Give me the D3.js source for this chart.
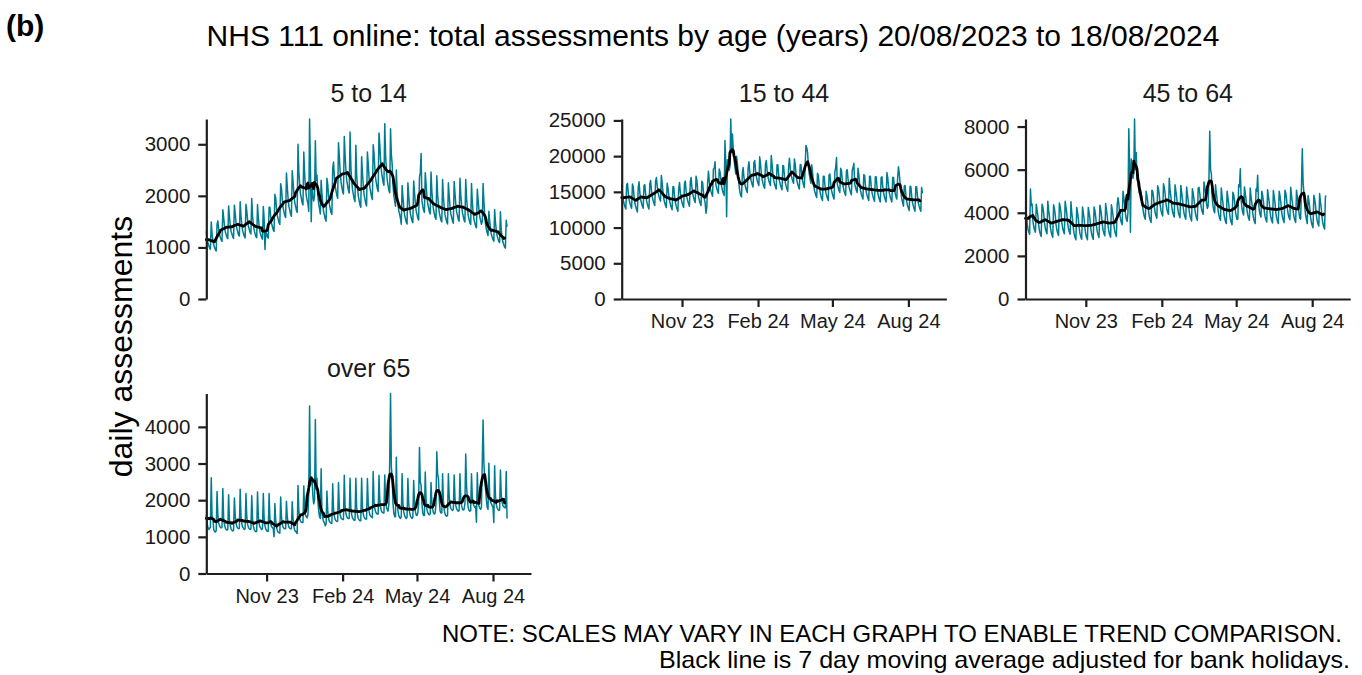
<!DOCTYPE html>
<html>
<head>
<meta charset="utf-8">
<script src="https://cdn.jsdelivr.net/npm/d3@7"></script>
<style>
  html, body { margin: 0; padding: 0; background: #ffffff; }
  svg { display: block; }
  text { font-family: "Liberation Sans", Arial, Helvetica, sans-serif; }
</style>
</head>
<body>
<svg id="chart" width="1362" height="675"></svg>
<script>
// ---------------- DATA ----------------
const startDate = "2023-08-20";   // first day (Sunday); one value per day to 18/08/2024
const ageGroups = ["5 to 14", "15 to 44", "45 to 64", "over 65"];

const age5to14 = [
  1310,1170,1080,1035,990,965,1495,
  1265,1130,1045,1000,955,930,1445,
  1515,1355,1250,1195,1145,1115,1730,
  1585,1420,1305,1250,1195,1170,1805,
  1595,1430,1315,1260,1205,1175,1820,
  1655,1480,1365,1305,1245,1220,1885,
  1605,1440,1325,1270,1215,1185,1835,
  1710,1530,1410,1350,1290,1260,1950,
  1610,1435,1330,1265,1210,1190,1830,
  1575,1410,1295,1240,1185,1160,1795,
  1560,960,1300,1260,1200,1180,1780,
  1780,1590,1465,1405,1340,1310,2030,
  1960,1755,1615,1550,1480,1445,2235,
  2145,1920,1765,1690,1615,1580,2445,
  2175,1950,1795,1720,1645,1605,2485,
  2280,2040,1880,1800,1720,1680,3000,
  2475,2215,2040,1955,1865,1825,2850,
  2440,2180,2000,1920,1850,1700,3490,
  2600,1500,2200,2000,1900,2000,3070,
  2300,2400,2000,1850,1750,1650,2300,
  2050,1835,1690,1620,1550,1510,2340,
  2225,1990,1835,1755,1675,1640,2535,
  2655,2375,2190,2095,2005,1955,3030,
  2760,2470,2275,2180,2080,2035,3150,
  2785,2495,2300,2200,2105,2055,3240,
  2565,2295,2115,2025,1935,1890,2980,
  2415,2160,1995,1910,1825,1780,2760,
  2450,2195,2020,1935,1850,1805,2850,
  2620,2345,2160,2070,1980,1930,2990,
  2830,2530,2330,2230,2135,2085,3220,
  2995,2680,2470,2365,2260,2205,3400,
  2795,2500,2305,2205,2105,2060,3300,
  2800,2600,2200,2000,1900,1800,2500,
  2075,1855,1710,1640,1565,1450,2200,
  1980,1770,1630,1560,1490,1455,2255,
  2005,1795,1655,1585,1515,1480,2290,
  2075,1855,1710,1640,1565,1530,2365,
  2450,2820,1900,1800,1720,1680,2450,
  2240,2005,1850,1770,1690,1650,2460,
  2100,1875,1730,1655,1580,1545,2390,
  2030,1815,1675,1600,1530,1495,2315,
  1975,1770,1630,1560,1490,1455,2255,
  2000,1790,1650,1580,1510,1470,2280,
  2050,1835,1690,1620,1545,1510,2340,
  2030,1815,1675,1600,1530,1495,2315,
  1965,1755,1620,1550,1480,1445,2240,
  1870,1675,1540,1475,1410,1380,2130,
  1925,1725,1590,1520,1450,1500,2240,
  1900,1600,1450,1350,1280,1230,1700,
  1520,1360,1255,1200,1150,1120,1735,
  1485,1330,1225,1170,1120,1095,1690,
  1335,1195,1105,1055,1010,985,1525,
  1400
];

const age15to44 = [
  16100,14700,13800,13300,12900,12600,16000,
  16200,14800,13900,13400,13000,12700,16100,
  15700,14300,13400,12900,12500,12200,15600,
  16400,14800,13900,13400,13000,12700,15900,
  16000,14700,13800,13300,12900,12600,16100,
  16600,15200,14300,13800,13400,13100,16500,
  17000,15800,14900,14400,14000,13700,17300,
  16300,14900,14000,13500,13100,12800,16200,
  15600,14600,13700,13200,12800,12500,15700,
  15700,14400,13500,13000,12600,12300,15500,
  16300,14900,14000,13500,13100,12800,16200,
  16500,15100,14200,13700,13300,13000,16400,
  17000,15600,14700,14200,13800,13500,17200,
  16600,15200,14300,13800,13400,13100,16500,
  16300,14900,14000,13500,12000,12800,16200,
  17900,16500,15600,15100,14700,14400,18200,
  18300,19200,16000,15500,15100,14800,18200,
  17800,16800,15700,15200,14800,14500,22200,
  19000,11500,19500,18500,18000,18500,25200,
  20500,23100,21000,19500,18500,17500,20000,
  19000,17500,16000,15000,14500,14300,17500,
  18400,17000,16100,15600,15200,14900,18300,
  19200,17800,16900,16400,16000,15700,19100,
  19400,18000,17100,16600,16200,15900,19900,
  19000,17600,16700,16200,15800,15500,18900,
  19400,18000,17100,16600,16200,15900,20100,
  18900,17500,16600,16100,15700,15400,18800,
  18800,17400,16500,16000,15600,15300,18700,
  18600,17200,16300,15800,15400,15100,18500,
  19700,18300,17400,16900,16500,16200,19600,
  18900,17500,16600,16100,15700,15400,18800,
  18800,17400,16500,16000,15600,18500,21500,
  21200,20500,18500,17500,16800,16200,18800,
  17700,16300,15400,14900,14500,14200,17600,
  17300,15900,15000,14500,14100,13800,17200,
  17200,15900,15000,14500,14100,13800,17400,
  17500,16100,15200,14700,14300,14000,17800,
  18400,19800,16100,15600,15200,14900,18300,
  18000,16600,15700,15200,14800,14500,17900,
  18100,16700,15800,15300,14900,14600,18000,
  18400,19000,16100,15600,15200,14900,18300,
  17500,16100,15200,14700,14300,14000,17400,
  17300,15900,15000,14500,14100,13800,17200,
  17200,15800,14900,14400,14000,13700,17100,
  17100,15700,14800,14300,13900,13600,17000,
  17100,15700,14800,14300,13900,13600,17700,
  17000,15700,14800,14300,13900,13600,17000,
  17000,15700,14800,14300,14000,17000,18500,
  17500,16200,15000,14000,13500,13000,15800,
  15900,14500,13600,13100,12700,12400,15800,
  15700,14400,13500,13000,12600,12300,15700,
  15700,14400,13500,13000,12600,12300,15600,
  14800
];

const age45to64 = [
  4250,3950,3500,3250,3100,3000,5100,
  4350,4400,3600,3350,3200,3100,4400,
  4150,3850,3400,3150,3000,2900,4400,
  4280,3980,3530,3280,3130,3030,4530,
  4120,3820,3370,3120,2970,2870,4370,
  4200,3900,3450,3200,3050,2950,4450,
  4280,3980,3530,3280,3130,3030,4530,
  4260,3960,3510,3260,3110,3010,4510,
  4000,3700,3250,3000,2850,2750,4250,
  4020,3720,3270,3020,2870,2770,4270,
  4000,3700,3250,3000,2850,2750,4250,
  4020,3720,3270,3020,2870,2770,4270,
  4100,3800,3350,3100,2950,2850,4350,
  4180,3880,3430,3180,3030,2930,4430,
  4120,3820,3370,3120,2970,2870,4370,
  4150,3850,3400,3150,3000,2900,4400,
  4700,4400,3950,3700,3550,3450,5000,
  4700,4400,3950,3700,3600,4000,7900,
  6200,3100,6500,5700,5600,5800,8350,
  6000,6800,5600,5400,5100,4900,5100,
  4900,4700,4200,3950,3800,3700,5000,
  4800,4500,4050,3800,3650,3550,5050,
  5000,4700,4250,4000,3850,3750,5250,
  5100,4800,4350,4100,3950,3850,5350,
  5180,4880,4430,4180,4030,3930,5600,
  5050,4750,4300,4050,3900,3800,5300,
  5020,4720,4270,4020,3870,3770,5270,
  4950,4650,4200,3950,3800,3700,5200,
  4870,4570,4120,3870,3720,3620,5120,
  4900,4600,4150,3900,3750,3650,5150,
  5180,4880,4430,4180,4030,3930,5430,
  5200,4900,4450,4200,4300,5500,7780,
  6000,5800,4700,4300,4100,4000,5300,
  4900,4600,4150,3900,3750,3650,5150,
  4750,4450,4000,3750,3600,3500,5000,
  4700,4400,3950,3700,3550,3450,4950,
  4850,4550,4100,3850,3700,3700,5300,
  5200,6040,4600,4200,4000,3900,5200,
  4900,4600,4150,3900,3750,3650,5150,
  4750,4450,4000,3750,3600,3500,5100,
  5000,5735,4500,4100,3900,3800,5000,
  4820,4520,4070,3820,3670,3570,5070,
  4780,4480,4030,3780,3630,3530,5030,
  4750,4450,4000,3750,3600,3500,5000,
  4800,4500,4050,3800,3650,3550,5050,
  4930,4630,4180,3930,3780,3680,5180,
  4800,4500,4050,3800,3650,3550,5050,
  4750,4450,4000,3750,3700,5200,6970,
  5400,4900,4300,3900,3700,3500,4800,
  4560,4260,3810,3560,3410,3310,4810,
  4640,4340,3890,3640,3490,3390,4890,
  4500,4200,3750,3500,3350,3250,4750,
  4800
];

const age65plus = [
  1600,1350,1250,1200,1230,1260,2610,
  1550,1500,1200,1150,1130,1170,2240,
  1600,1380,1300,1260,1240,1260,2320,
  1500,1330,1240,1200,1180,1200,2150,
  1480,1310,1220,1180,1160,1180,2060,
  1580,1370,1280,1240,1220,1230,2300,
  1560,1350,1270,1230,1200,1220,2180,
  1550,1340,1260,1220,1200,1215,2120,
  1500,1290,1200,1160,1140,1150,2220,
  1560,1350,1270,1230,1200,1220,2180,
  1500,1300,1210,1170,1150,1150,2180,
  1500,1350,1280,1250,1230,1000,1910,
  1450,1260,1170,1130,1110,1100,2090,
  1550,1350,1260,1230,1220,1220,1970,
  1550,1360,1260,1230,1220,1220,1960,
  1500,1280,1180,1150,1130,1090,2400,
  1700,1500,1430,1400,1390,1390,2390,
  1750,1600,1550,1520,1600,2200,4570,
  2400,2500,2600,2100,1900,2000,4200,
  2300,2600,2000,1700,1550,1500,2860,
  1650,1500,1420,1380,1300,1350,2250,
  1700,1500,1420,1390,1370,1370,2450,
  1750,1560,1470,1440,1420,1430,2480,
  1800,1600,1520,1490,1480,1470,2680,
  1820,1630,1550,1510,1500,1500,2600,
  1800,1600,1510,1480,1450,1460,2600,
  1800,1590,1500,1460,1440,1440,2600,
  1820,1620,1540,1500,1480,1490,2590,
  1900,1700,1600,1560,1540,1520,2780,
  1950,1760,1680,1640,1620,1620,2680,
  2000,1800,1700,1670,1650,1650,2690,
  2000,1800,1750,1700,1900,3100,4910,
  2900,2600,1900,1650,1550,1550,3170,
  1950,1700,1580,1530,1500,1550,2720,
  1900,1680,1580,1530,1500,1540,2590,
  1900,1680,1570,1530,1500,1530,2540,
  1900,1700,1600,1580,1650,1900,3440,
  2500,2400,1900,1650,1580,1580,2770,
  2000,1750,1660,1620,1600,1630,2480,
  1950,1750,1650,1620,1650,1900,3320,
  2700,2600,2000,1700,1650,1650,2720,
  1950,1720,1620,1580,1560,1590,2720,
  2100,1870,1780,1740,1720,1750,2690,
  2050,1850,1760,1720,1700,1710,2720,
  2050,1850,1760,1730,1750,1900,3260,
  2400,2000,1800,1720,1700,1720,2720,
  2050,1900,1850,1800,1830,1400,2750,
  2050,1850,1780,1750,1800,3000,4190,
  3000,2600,2300,2000,1800,1750,3010,
  2100,1950,1900,1850,1800,1390,2940,
  2100,1880,1790,1750,1720,1730,2820,
  2150,1950,1850,1820,1800,1790,2780,
  1500
];

const tickDates = ["2023-11-01", "2024-02-01", "2024-05-01", "2024-08-01"];
const tickLabels = ["Nov 23", "Feb 24", "May 24", "Aug 24"];
const axisEndDate = "2024-09-16";

// ---------------- LAYOUT ----------------
const parse = d3.timeParse("%Y-%m-%d");
const t0 = parse(startDate);
const tEnd = parse(axisEndDate);
const seriesList = [age5to14, age15to44, age45to64, age65plus];
const panelW = 324.7, panelH = 180;
const layout = [
  { x0: 206.3, y0: 119,   showX: false },
  { x0: 621.7, y0: 119,   showX: true },
  { x0: 1025.5, y0: 119,  showX: true },
  { x0: 206.3, y0: 393.5, showX: true }
];
const teal = "#007C91";
const axisCol = "#1e1e1e";
const fontMain = '"Liberation Sans", Arial, sans-serif';

const svg = d3.select("#chart");

// 7-day moving average (window kept inside the data at the start)
function movingAverage(vals) {
  const out = [];
  for (let i = 0; i < vals.length - 3; i++) {
    const s = Math.max(0, i - 3);
    out.push(d3.mean(vals.slice(s, s + 7)));
  }
  return out;
}

ageGroups.forEach((name, k) => {
  const vals = seriesList[k];
  const L = layout[k];
  const dates = vals.map((_, i) => d3.timeDay.offset(t0, i));
  const x = d3.scaleTime().domain([t0, tEnd]).range([L.x0, L.x0 + panelW]);
  const y = d3.scaleLinear().domain([0, d3.max(vals)]).range([L.y0 + panelH, L.y0]);
  const g = svg.append("g");

  const line = d3.line().x((d, i) => x(dates[i])).y(d => y(d));

  // daily series
  g.append("path").datum(vals)
    .attr("d", line)
    .attr("fill", "none")
    .attr("stroke", teal)
    .attr("stroke-width", 1.5)
    .attr("stroke-linejoin", "round");

  // 7-day moving average
  g.append("path").datum(movingAverage(vals))
    .attr("d", line)
    .attr("fill", "none")
    .attr("stroke", "#000")
    .attr("stroke-width", 2.8)
    .attr("stroke-linejoin", "round")
    .attr("stroke-linecap", "round");

  // y axis
  const ya = g.append("g")
    .attr("transform", `translate(${L.x0},0)`)
    .call(d3.axisLeft(y).ticks(4).tickFormat(d3.format("d"))
      .tickSize(8).tickPadding(8).tickSizeOuter(0));
  ya.select(".domain").attr("stroke", axisCol).attr("stroke-width", 2.2);
  ya.selectAll(".tick line").attr("stroke", axisCol).attr("stroke-width", 2.2);
  ya.selectAll(".tick text").attr("font-size", 20.5).attr("fill", "#1a1a1a")
    .attr("font-family", fontMain);

  // x axis
  if (L.showX) {
    const xa = g.append("g")
      .attr("transform", `translate(0,${L.y0 + panelH})`)
      .call(d3.axisBottom(x)
        .tickValues(tickDates.map(parse))
        .tickFormat((d, i) => tickLabels[i])
        .tickSize(8).tickPadding(7).tickSizeOuter(0));
    xa.select(".domain").attr("stroke", axisCol).attr("stroke-width", 2.2);
    xa.selectAll(".tick line").attr("stroke", axisCol).attr("stroke-width", 2.2);
    xa.selectAll(".tick text").attr("font-size", 20).attr("fill", "#1a1a1a")
      .attr("font-family", fontMain);
  }

  // panel title
  svg.append("text")
    .attr("x", L.x0 + panelW / 2)
    .attr("y", L.y0 - 17)
    .attr("text-anchor", "middle")
    .attr("font-size", 25)
    .attr("fill", "#1a1a1a")
    .text(name);
});

// ---------------- TEXT ----------------
svg.append("text")
  .attr("x", 6).attr("y", 36)
  .attr("font-size", 30).attr("font-weight", "bold").attr("fill", "#000")
  .text("(b)");

svg.append("text")
  .attr("x", 713).attr("y", 46)
  .attr("text-anchor", "middle")
  .attr("font-size", 30).attr("fill", "#000")
  .text("NHS 111 online: total assessments by age (years) 20/08/2023 to 18/08/2024");

svg.append("text")
  .attr("transform", "translate(132,346.5) rotate(-90)")
  .attr("text-anchor", "middle")
  .attr("font-size", 32).attr("fill", "#000")
  .text("daily assessments");

const noteFont = '"Liberation Sans Narrow", "Arial Narrow", "Liberation Sans", sans-serif';
svg.append("text")
  .attr("x", 442).attr("y", 642)
  .attr("font-family", noteFont)
  .attr("font-size", 24).attr("fill", "#000")
  .attr("textLength", 900).attr("lengthAdjust", "spacingAndGlyphs")
  .text("NOTE: SCALES MAY VARY IN EACH GRAPH TO ENABLE TREND COMPARISON.");

svg.append("text")
  .attr("x", 659).attr("y", 668)
  .attr("font-family", noteFont)
  .attr("font-size", 24).attr("fill", "#000")
  .attr("textLength", 691).attr("lengthAdjust", "spacingAndGlyphs")
  .text("Black line is 7 day moving average adjusted for bank holidays.");
</script>
</body>
</html>
